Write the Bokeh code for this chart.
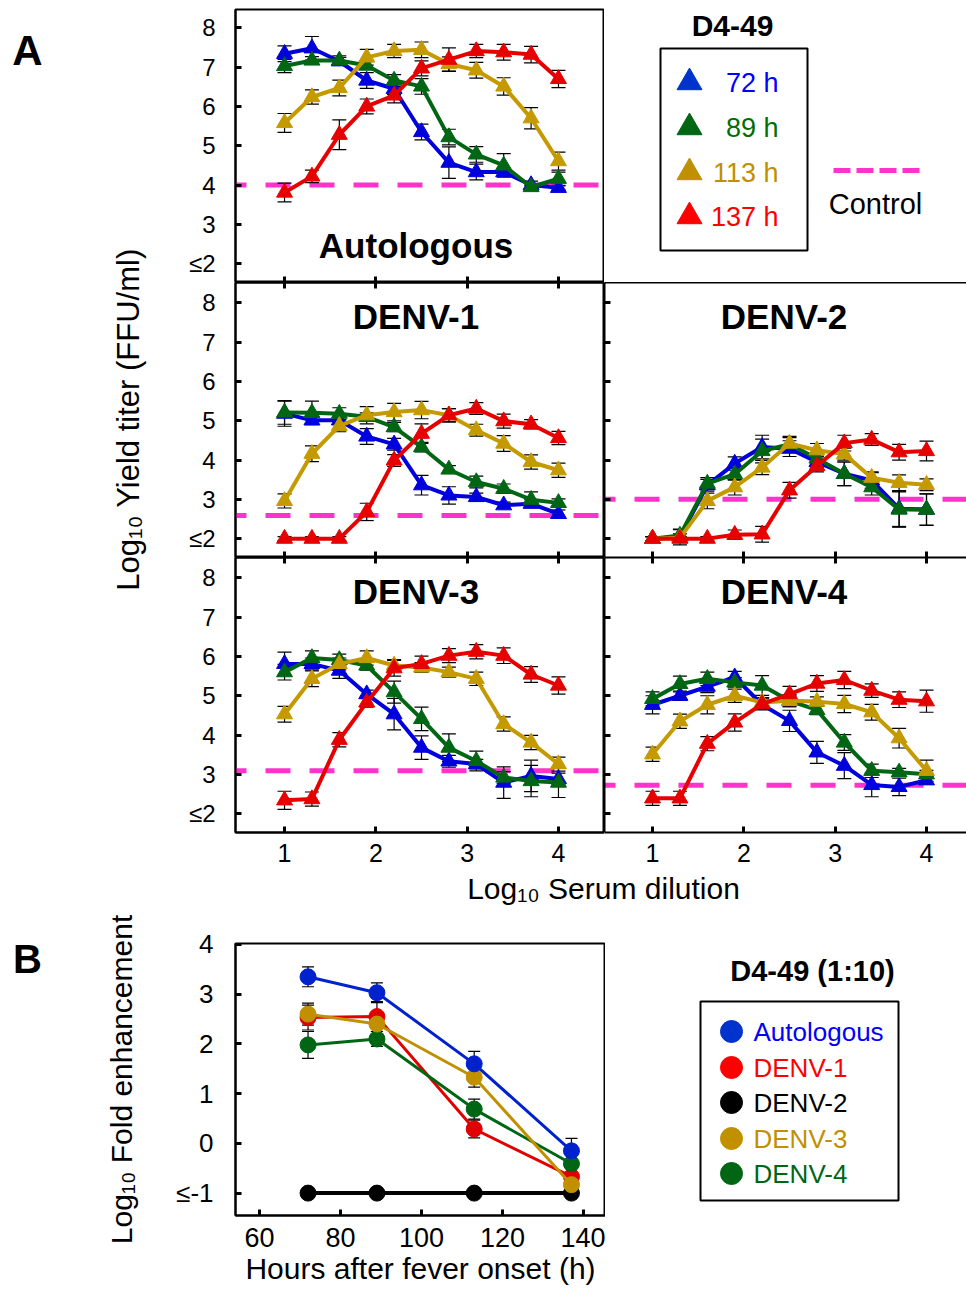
from math import pi
from bokeh.plotting import figure
from bokeh.models import (Range1d, LinearAxis, FixedTicker, Whisker, TeeHead,
                          ColumnDataSource, Span, Label)
from bokeh.layouts import row, column
from bokeh.embed import file_html
from bokeh.resources import INLINE
from bokeh.core.properties import value

FONT = "Liberation Sans"
BLUE = "#0000dd"
GREEN = "#006614"
GOLD = "#c49a00"
RED = "#e60000"
MAG = "#ff33cc"

# ---------------- data (panel A) ----------------
dilution = [1.0, 1.3, 1.6, 1.9, 2.2, 2.5, 2.8, 3.1, 3.4, 3.7, 4.0]
dil_ticks = [1, 2, 3, 4]
titer_ticks = [2, 3, 4, 5, 6, 7, 8]
hour_labels = ["72 h", "89 h", "113 h", "137 h"]

auto_72 = [7.34, 7.48, 7.15, 6.66, 6.45, 5.35, 4.57, 4.33, 4.33, 4.00, 3.93]
auto_89 = [7.03, 7.17, 7.17, 7.04, 6.66, 6.51, 5.22, 4.78, 4.50, 3.95, 4.16]
auto_113 = [5.58, 6.24, 6.47, 7.25, 7.41, 7.44, 7.08, 6.92, 6.51, 5.70, 4.61]
auto_137 = [3.81, 4.22, 5.28, 6.00, 6.28, 6.97, 7.19, 7.41, 7.38, 7.32, 6.70]
auto_72_se = [0.20, 0.30, 0.10, 0.20, 0.15, 0.20, 0.40, 0.20, 0.10, 0.10, 0.05]
auto_89_se = [0.17, 0.10, 0.12, 0.10, 0.15, 0.20, 0.20, 0.20, 0.30, 0.05, 0.17]
auto_113_se = [0.24, 0.18, 0.20, 0.20, 0.17, 0.20, 0.18, 0.20, 0.22, 0.27, 0.23]
auto_137_se = [0.24, 0.16, 0.38, 0.19, 0.19, 0.19, 0.30, 0.17, 0.20, 0.21, 0.22]
auto_ctrl = 4.0

d1_72 = [5.18, 5.01, 5.01, 4.60, 4.40, 3.36, 3.10, 3.06, 2.85, 2.89, 2.63]
d1_89 = [5.21, 5.20, 5.18, 5.10, 4.84, 4.33, 3.76, 3.44, 3.27, 2.99, 2.91]
d1_113 = [2.96, 4.16, 4.87, 5.14, 5.22, 5.27, 5.14, 4.76, 4.42, 3.95, 3.74]
d1_137 = [2.00, 2.00, 2.00, 2.68, 3.99, 4.67, 5.14, 5.31, 4.99, 4.91, 4.56]
d1_72_se = [0.32, 0.10, 0.10, 0.20, 0.15, 0.25, 0.22, 0.10, 0.08, 0.10, 0.10]
d1_89_se = [0.30, 0.30, 0.15, 0.10, 0.12, 0.12, 0.10, 0.15, 0.12, 0.20, 0.10]
d1_113_se = [0.18, 0.20, 0.15, 0.22, 0.22, 0.22, 0.17, 0.15, 0.20, 0.18, 0.18]
d1_137_se = [0.05, 0.05, 0.05, 0.22, 0.15, 0.25, 0.17, 0.15, 0.18, 0.12, 0.17]
d1_ctrl = 2.59

d2_72 = [2.00, 2.04, 3.36, 3.91, 4.33, 4.29, 3.95, 3.65, 3.48, 2.76, 2.74]
d2_89 = [2.00, 2.08, 3.40, 3.64, 4.23, 4.40, 4.04, 3.65, 3.31, 2.74, 2.74]
d2_113 = [2.00, 2.02, 2.96, 3.31, 3.81, 4.42, 4.25, 4.15, 3.55, 3.42, 3.37]
d2_137 = [2.00, 2.00, 2.00, 2.10, 2.11, 3.23, 3.85, 4.43, 4.52, 4.20, 4.23]
d2_72_se = [0.05, 0.20, 0.15, 0.17, 0.30, 0.20, 0.15, 0.30, 0.20, 0.45, 0.40]
d2_89_se = [0.05, 0.15, 0.15, 0.15, 0.30, 0.20, 0.15, 0.30, 0.20, 0.45, 0.40]
d2_113_se = [0.05, 0.10, 0.20, 0.20, 0.18, 0.15, 0.17, 0.15, 0.15, 0.20, 0.15]
d2_137_se = [0.05, 0.05, 0.05, 0.12, 0.20, 0.20, 0.15, 0.20, 0.15, 0.20, 0.25]
d2_ctrl = 3.0

d3_72 = [5.81, 5.81, 5.64, 5.04, 4.53, 3.68, 3.33, 3.26, 2.79, 2.96, 2.88]
d3_89 = [5.60, 5.96, 5.91, 5.77, 5.09, 4.41, 3.68, 3.34, 2.92, 2.83, 2.79]
d3_113 = [4.53, 5.43, 5.81, 5.96, 5.77, 5.72, 5.60, 5.43, 4.28, 3.81, 3.26]
d3_137 = [2.34, 2.37, 3.88, 4.83, 5.70, 5.81, 6.02, 6.12, 6.02, 5.54, 5.26]
d3_72_se = [0.30, 0.15, 0.20, 0.10, 0.40, 0.30, 0.15, 0.12, 0.40, 0.40, 0.15]
d3_89_se = [0.20, 0.18, 0.15, 0.12, 0.28, 0.30, 0.35, 0.25, 0.15, 0.40, 0.38]
d3_113_se = [0.20, 0.20, 0.15, 0.18, 0.15, 0.12, 0.13, 0.17, 0.18, 0.18, 0.18]
d3_137_se = [0.23, 0.18, 0.18, 0.12, 0.20, 0.20, 0.18, 0.18, 0.20, 0.20, 0.22]
d3_ctrl = 3.09

d4_72 = [4.77, 5.00, 5.23, 5.47, 4.77, 4.36, 3.56, 3.22, 2.73, 2.68, 2.85]
d4_89 = [4.92, 5.30, 5.43, 5.34, 5.26, 4.87, 4.64, 3.81, 3.09, 3.05, 3.00]
d4_113 = [3.51, 4.35, 4.77, 5.00, 4.83, 4.87, 4.85, 4.79, 4.58, 3.92, 3.09]
d4_137 = [2.39, 2.39, 3.78, 4.32, 4.79, 5.04, 5.31, 5.40, 5.13, 4.90, 4.86]
d4_72_se = [0.23, 0.12, 0.15, 0.15, 0.12, 0.27, 0.28, 0.33, 0.30, 0.22, 0.10]
d4_89_se = [0.18, 0.20, 0.17, 0.12, 0.25, 0.15, 0.12, 0.20, 0.17, 0.10, 0.10]
d4_113_se = [0.18, 0.18, 0.23, 0.17, 0.12, 0.15, 0.12, 0.22, 0.20, 0.25, 0.27]
d4_137_se = [0.18, 0.18, 0.18, 0.22, 0.15, 0.20, 0.20, 0.22, 0.17, 0.20, 0.28]
d4_ctrl = 2.72

# ---------------- data (panel B) ----------------
onset_hours = [72, 89, 113, 137]
hour_ticks = [60, 80, 100, 120, 140]
fold_ticks = [-1, 0, 1, 2, 3, 4]
b_names = ["Autologous", "DENV-1", "DENV-2", "DENV-3", "DENV-4"]
fold_auto = [3.35, 3.03, 1.60, -0.15]
fold_d1 = [2.53, 2.55, 0.29, -0.67]
fold_d2 = [-1.0, -1.0, -1.0, -1.0]
fold_d3 = [2.60, 2.40, 1.33, -0.83]
fold_d4 = [1.98, 2.10, 0.69, -0.41]
fold_auto_se = [0.20, 0.20, 0.25, 0.25]
fold_d1_se = [0.25, 0.30, 0.18, 0.10]
fold_d2_se = [0.0, 0.0, 0.0, 0.0]
fold_d3_se = [0.22, 0.15, 0.20, 0.10]
fold_d4_se = [0.27, 0.15, 0.20, 0.10]

SERIES_COLORS = [BLUE, GREEN, GOLD, RED]
LEG_TEXT_COLORS = ["#0000ff", "#006e00", "#c09000", "#ff0000"]
B_COLORS = ["#0022cc", "#e00000", "#000000", "#c09000", "#006614"]

# page geometry (px)
ROW1_H, ROW2_H, ROW3_H = 282, 275, 315
TOP_A = ROW1_H + ROW2_H + ROW3_H          # 872
XSTRIP_H = 34
ROWB_H = 1290 - TOP_A - XSTRIP_H          # 384
B_TOP, B_BOT = 37, 75


def lab_axis(ticks, overrides, fs, standoff):
    return LinearAxis(ticker=FixedTicker(ticks=ticks), major_label_overrides=overrides,
                      axis_line_width=2, axis_line_color="black",
                      major_tick_in=6, major_tick_out=0, major_tick_line_width=3,
                      major_tick_line_color="black", minor_tick_line_color=None,
                      major_label_text_font=FONT, major_label_text_font_size=fs,
                      major_label_standoff=standoff, major_label_text_color="black",
                      axis_label_text_color="black")


def unl_axis(ticks):
    return LinearAxis(ticker=FixedTicker(ticks=[], minor_ticks=ticks),
                      axis_line_width=2, axis_line_color="black",
                      major_tick_line_color=None, minor_tick_in=6, minor_tick_out=0,
                      minor_tick_line_width=3, minor_tick_line_color="black")


def blank_fig(w, h, x0, x1, y0, y1, top=0, bottom=0):
    p = figure(width=w, height=h, x_range=Range1d(x0, x1), y_range=Range1d(y0, y1),
               output_backend="svg", toolbar_location=None,
               min_border_left=0, min_border_right=0, min_border_top=top,
               min_border_bottom=bottom,
               x_axis_location=None, y_axis_location=None, outline_line_color=None)
    p.grid.visible = False
    return p


def txt(p, x, y, s, size, color="black", bold=False, align="center", baseline="middle", angle=0.0):
    p.text(x=[x], y=[y], text=[s], text_font=value(FONT), text_font_size=value(size),
           text_font_style="bold" if bold else "normal", text_color=color,
           text_align=align, text_baseline=baseline, angle=angle)


def panel(name, series, errs, ctrl, left, rowi, title_y):
    w = 454 if left else 362
    h = [ROW1_H, ROW2_H, ROW3_H][rowi]
    xr = Range1d(0.463, 4.504) if left else Range1d(0.474, 4.438)
    yr = Range1d(1.52, 8.467) if rowi == 0 else Range1d(1.52, 8.517)
    p = figure(width=w, height=h, x_range=xr, y_range=yr, output_backend="svg",
               toolbar_location=None,
               min_border_left=85 if left else 0, min_border_right=0,
               min_border_top=9 if rowi == 0 else 0,
               min_border_bottom=40 if rowi == 2 else 0,
               x_axis_location=None, y_axis_location=None,
               outline_line_color="black" if left else None, outline_line_width=2)
    p.grid.visible = False
    if left:
        p.add_layout(lab_axis(titer_ticks, {2: "≤2"}, "24px", 20), "left")
    else:
        p.add_layout(unl_axis(titer_ticks), "left")
    if rowi == 2:
        p.add_layout(lab_axis(dil_ticks, {}, "25px", 11), "below")
    else:
        p.add_layout(unl_axis(dil_ticks), "below")
    if rowi > 0:
        p.add_layout(unl_axis(dil_ticks if (left or rowi == 2) else []), "above")

    p.add_layout(Span(location=ctrl, dimension="width", line_color=MAG, line_width=5,
                      line_dash="25 19", line_dash_offset=14, level="underlay"))
    for vals, se in zip(series, errs):
        src = ColumnDataSource(dict(x=dilution,
                                    upper=[v + e for v, e in zip(vals, se)],
                                    lower=[v - e for v, e in zip(vals, se)]))
        p.add_layout(Whisker(source=src, base="x", upper="upper", lower="lower",
                             line_color="black", line_width=1.2, level="underlay",
                             upper_head=TeeHead(size=14, line_color="black", line_width=1.2),
                             lower_head=TeeHead(size=14, line_color="black", line_width=1.2)))
    for vals, c in zip(series, SERIES_COLORS):
        p.line(dilution, vals, line_color=c, line_width=4)
        p.scatter(dilution, vals, marker="triangle", size=16, fill_color=c, line_color=c)
    p.add_layout(Label(x=2.44, y=title_y, text=name, text_font=FONT, text_font_size="35px",
                       text_font_style="bold", text_align="center", text_baseline="middle",
                       text_color="black"))
    return p


auto = panel("Autologous", [auto_72, auto_89, auto_113, auto_137],
             [auto_72_se, auto_89_se, auto_113_se, auto_137_se], auto_ctrl, True, 0, 2.45)
d1 = panel("DENV-1", [d1_72, d1_89, d1_113, d1_137],
           [d1_72_se, d1_89_se, d1_113_se, d1_137_se], d1_ctrl, True, 1, 7.65)
d2 = panel("DENV-2", [d2_72, d2_89, d2_113, d2_137],
           [d2_72_se, d2_89_se, d2_113_se, d2_137_se], d2_ctrl, False, 1, 7.65)
d3 = panel("DENV-3", [d3_72, d3_89, d3_113, d3_137],
           [d3_72_se, d3_89_se, d3_113_se, d3_137_se], d3_ctrl, True, 2, 7.65)
d4 = panel("DENV-4", [d4_72, d4_89, d4_113, d4_137],
           [d4_72_se, d4_89_se, d4_113_se, d4_137_se], d4_ctrl, False, 2, 7.65)

# legend A (page coordinates, y negated); frame aligned with the autologous frame
legA = blank_fig(362, ROW1_H, 604, 966, -ROW1_H, -9, top=9)
txt(legA, 732, -25, "D4-49", "30px", bold=True)
legA.quad(left=[660], right=[807], top=[-48], bottom=[-250], fill_color=None,
          line_color="black", line_width=2)
leg_y = [-82, -127, -172, -216]
for yy, c, tc, lab in zip(leg_y, ["#0033cc", "#006614", "#c09000", "#ff0000"],
                          LEG_TEXT_COLORS, hour_labels):
    legA.scatter([689], [yy], marker="triangle", size=25, fill_color=c, line_color=c)
    txt(legA, 778, yy, lab, "27px", color=tc, align="right")
legA.line([833, 919], [-170, -170], line_color=MAG, line_width=5, line_dash="17 6")
txt(legA, 875, -203, "Control", "29px")

# left strip with panel letter and y title
stripA = blank_fig(150, TOP_A, 0, 150, -TOP_A, 0)
txt(stripA, 27, -50, "A", "42px", bold=True)
txt(stripA, 128, -419, "Log₁₀ Yield titer (FFU/ml)", "31px", angle=pi / 2)

# x title strip
xstrip = blank_fig(966, XSTRIP_H, 0, 966, -(TOP_A + XSTRIP_H), -TOP_A)
txt(xstrip, 603, -(TOP_A + 16), "Log₁₀ Serum dilution", "30px")

# panel B row
y_b0 = TOP_A + XSTRIP_H
frame_top = y_b0 + B_TOP
frame_bot = y_b0 + ROWB_H - B_BOT
stripB = blank_fig(68, ROWB_H, 0, 68, -frame_bot, -frame_top, top=B_TOP, bottom=B_BOT)
txt(stripB, 27, -958, "B", "40px", bold=True)

pB = figure(width=537, height=ROWB_H, x_range=Range1d(54.1, 145.4), y_range=Range1d(-1.45, 4.02),
            output_backend="svg", toolbar_location=None,
            min_border_left=167, min_border_right=0, min_border_top=B_TOP, min_border_bottom=B_BOT,
            x_axis_location=None, y_axis_location=None,
            outline_line_color="black", outline_line_width=2)
pB.grid.visible = False
yax = lab_axis(fold_ticks, {-1: "≤-1"}, "26px", 22)
yax.axis_label = "Log₁₀ Fold enhancement"
yax.axis_label_text_font = FONT
yax.axis_label_text_font_size = "30px"
yax.axis_label_text_font_style = "normal"
yax.axis_label_standoff = 35
pB.add_layout(yax, "left")
xax = lab_axis(hour_ticks, {}, "27px", 12)
xax.axis_label = "Hours after fever onset (h)"
xax.axis_label_text_font = FONT
xax.axis_label_text_font_size = "30px"
xax.axis_label_text_font_style = "normal"
xax.axis_label_standoff = 2
pB.add_layout(xax, "below")

b_series = [fold_auto, fold_d1, fold_d2, fold_d3, fold_d4]
b_errs = [fold_auto_se, fold_d1_se, fold_d2_se, fold_d3_se, fold_d4_se]
for vals, se in zip(b_series, b_errs):
    if max(se) > 0:
        src = ColumnDataSource(dict(x=onset_hours,
                                    upper=[v + e for v, e in zip(vals, se)],
                                    lower=[v - e for v, e in zip(vals, se)]))
        pB.add_layout(Whisker(source=src, base="x", upper="upper", lower="lower",
                              line_color="black", line_width=1.2, level="underlay",
                              upper_head=TeeHead(size=12, line_color="black", line_width=1.2),
                              lower_head=TeeHead(size=12, line_color="black", line_width=1.2)))
for i in [2, 1, 4, 3, 0]:
    c = B_COLORS[i]
    pB.line(onset_hours, b_series[i], line_color=c, line_width=4 if i == 2 else 3)
    pB.scatter(onset_hours, b_series[i], marker="circle", size=16, fill_color=c, line_color=c)

legB = blank_fig(361, ROWB_H, 605, 966, -frame_bot, -frame_top, top=B_TOP, bottom=B_BOT)
txt(legB, 812, -970, "D4-49 (1:10)", "29px", bold=True)
legB.quad(left=[700], right=[898], top=[-1001], bottom=[-1200], fill_color=None,
          line_color="black", line_width=2)
legB_y = [-1031, -1067, -1102, -1138, -1173]
legB_text = ["#0000ff", "#ff0000", "#000000", "#c09000", "#006614"]
legB_dot = ["#0033cc", "#ff0000", "#000000", "#c09000", "#006614"]
for yy, dc, tc, lab in zip(legB_y, legB_dot, legB_text, b_names):
    legB.scatter([731], [yy], marker="circle", size=22, fill_color=dc, line_color=dc)
    txt(legB, 753, yy, lab, "26px", color=tc, align="left")

layout = column(
    row(stripA, column(row(auto, legA), row(d1, d2), row(d3, d4))),
    xstrip,
    row(stripB, pB, legB),
)

open("out.html", "w").write(file_html(layout, INLINE))
